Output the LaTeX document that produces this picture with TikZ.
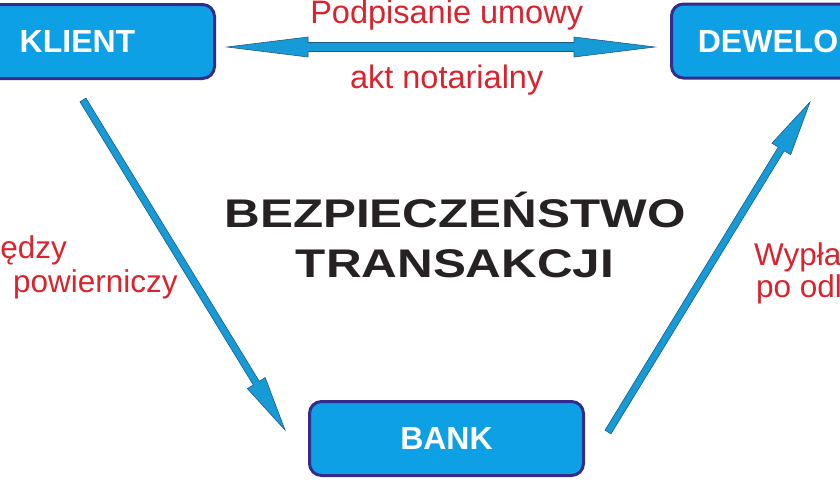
\documentclass[tikz,border=0pt]{standalone}
\usepackage{fontspec}
\setmainfont{Liberation Sans}
\usetikzlibrary{calc}
\definecolor{boxfill}{RGB}{14,160,228}
\definecolor{boxedge}{RGB}{52,44,140}
\definecolor{arrfill}{RGB}{22,155,215}
\definecolor{arredge}{RGB}{30,90,130}
\definecolor{redtxt}{RGB}{218,35,45}
\definecolor{titletxt}{RGB}{38,34,36}
\newcommand\singlearrow[5]{% tail, tip, head length, head half width, shaft half width
  \coordinate (#1-h) at ($(#2)!#3!(#1)$);
  \path[arr] ($(#1)!#5!90:(#2)$) -- ($(#1-h)!#5!90:(#2)$) -- ($(#1-h)!#4!90:(#2)$) -- (#2)
    -- ($(#1-h)!#4!-90:(#2)$) -- ($(#1-h)!#5!-90:(#2)$) -- ($(#1)!#5!-90:(#2)$) -- cycle;
}
\newcommand\doublearrow[5]{% tip1, tip2, head length, head half width, shaft half width
  \coordinate (#1-h) at ($(#1)!#3!(#2)$);
  \coordinate (#2-h) at ($(#2)!#3!(#1)$);
  \path[arr] (#1) -- ($(#1-h)!#4!90:(#2)$) -- ($(#1-h)!#5!90:(#2)$) -- ($(#2-h)!#5!-90:(#1)$)
    -- ($(#2-h)!#4!-90:(#1)$) -- (#2) -- ($(#2-h)!#4!90:(#1)$) -- ($(#2-h)!#5!90:(#1)$)
    -- ($(#1-h)!#5!-90:(#2)$) -- ($(#1-h)!#4!-90:(#2)$) -- cycle;
}
\begin{document}
\begin{tikzpicture}[x=1pt,y=-1pt,
  box/.style={draw=boxedge, line width=3pt, fill=boxfill, rounded corners=12pt,
    minimum width=274pt, minimum height=74pt, inner sep=0pt, text=white,
    font=\fontsize{32}{38}\selectfont\bfseries},
  lbl/.style={text=redtxt, inner sep=0pt, font=\fontsize{32.5}{38}\selectfont},
  slbl/.style={text=redtxt, inner sep=0pt, font=\fontsize{31.5}{36}\selectfont},
  ttl/.style={text=titletxt, inner sep=0pt, font=\fontsize{40}{48}\selectfont\bfseries},
  arr/.style={fill=arrfill, draw=arredge, line width=0.6pt, line join=miter}]
\useasboundingbox (0,0) rectangle (840,480);
\clip (0,0) rectangle (840,480);

\node[box] (klient) at (77.5,41.5) {KLIENT};
\node[box] (dev) at (808.5,41) {\hspace*{-15pt}DEWELOPER};
\node[box] (bank) at (446.5,438.5) {BANK};

\coordinate (tl) at (227,47);
\coordinate (tr) at (655,47);
\doublearrow{tl}{tr}{81pt}{10pt}{4.5pt}

\coordinate (kt) at (83,100);
\coordinate (kh) at (285,430);
\singlearrow{kt}{kh}{55pt}{10.5pt}{3.5pt}

\coordinate (bt) at (608,432);
\coordinate (bh) at (810,102);
\singlearrow{bt}{bh}{55pt}{11pt}{3.5pt}

\node[lbl, anchor=base] (umowa) at (446.7,23) {Podpisanie umowy};
\node[lbl, anchor=base] (akt) at (446.7,88) {akt notarialny};

\node[slbl, anchor=base east] (l1) at (67,258) {ędzy};
\node[slbl, anchor=base west] (l2) at (13,292) {powierniczy};

\node[slbl, anchor=base west] (r1) at (754,265) {Wypła};
\node[slbl, anchor=base west] (r2) at (756,297) {po odl};

\node[ttl, anchor=base] (t1) at (455,227) {\scalebox{1.235}[1]{BEZPIECZEŃSTWO}};
\node[ttl, anchor=base] (t2) at (455,277) {\scalebox{1.235}[1]{TRANSAKCJI}};
\end{tikzpicture}
\end{document}
